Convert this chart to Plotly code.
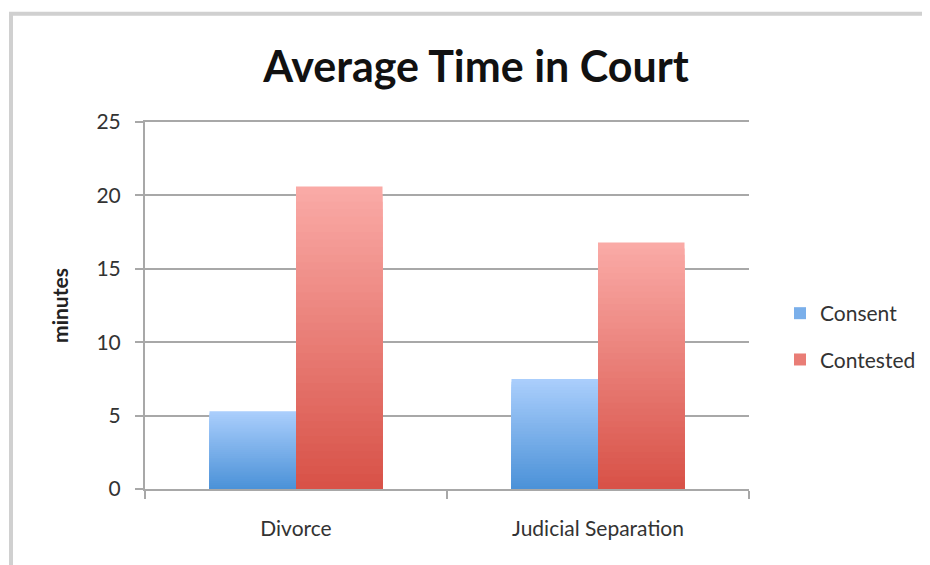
import plotly.graph_objects as go

categories = ["Divorce", "Judicial Separation"]
consent = [5.3, 7.5]
contested = [20.6, 16.8]
y_ticks = [0, 5, 10, 15, 20, 25]

series = [
    ("Consent", consent, (170, 206, 252), (76, 146, 216), "a"),
    ("Contested", contested, (250, 170, 166), (216, 82, 72), "b"),
]

# page has an 8px body margin, so the figure is offset by 8px
W, H = 922, 557
L, R, T, B = 137, 181, 113.5, 75.7
PW = W - L - R
PH = H - T - B

N = 40
fig = go.Figure()
for name, vals, top, bot, grp in series:
    for k in range(N):
        f = k / (N - 1)
        c = tuple(round(top[i] + (bot[i] - top[i]) * f) for i in range(3))
        frac = (N - k) / N
        fig.add_trace(go.Bar(
            x=categories,
            y=[v * frac for v in vals],
            name=name,
            offsetgroup=grp,
            legendgroup=name,
            showlegend=(k == N // 2),
            marker=dict(color="rgb(%d,%d,%d)" % c, line=dict(width=0)),
            hoverinfo="skip",
        ))

fig.update_layout(
    width=W, height=H,
    barmode="group",
    bargap=0.427, bargroupgap=0,
    paper_bgcolor="white", plot_bgcolor="white",
    margin=dict(l=L, r=R, t=T, b=B, autoexpand=False),
    font=dict(family="Lato, Open Sans, sans-serif", color="#222"),
    title=dict(text="<b>Average Time in Court</b>", x=468 / W, xanchor="center",
               y=1 - 59 / H, yanchor="middle",
               font=dict(size=43, color="#111", family="Lato, sans-serif")),
    legend=dict(x=1 + (772 - (W - R)) / PW, y=1 - (328.5 - T) / PH,
                xanchor="left", yanchor="middle",
                font=dict(size=21, color="#333"), tracegroupgap=16,
                itemwidth=30, traceorder="grouped"),
    showlegend=True,
    shapes=[dict(type="rect", xref="paper", yref="paper",
                 x0=(3 - L) / PW, x1=1.6, y0=-0.5,
                 y1=1 + (T - 5) / PH,
                 line=dict(color="#d0d0d0", width=4), layer="below")],
)
fig.update_yaxes(
    range=[0, 25], tickvals=y_ticks, showgrid=True, gridcolor="#a8a8a8", gridwidth=2,
    showline=True, linecolor="#a8a8a8", linewidth=2, ticks="outside", ticklen=8,
    tickcolor="#a8a8a8", tickwidth=2, tickfont=dict(size=21, color="#333"),
    ticklabelstandoff=10,
    title=dict(text="<b>minutes</b>", font=dict(size=21, color="#222"), standoff=22),
    zeroline=False,
)
fig.update_xaxes(
    showline=True, mirror=True, linecolor="#a8a8a8", linewidth=2, ticks="outside", ticklen=8,
    tickcolor="#a8a8a8", tickwidth=2, tickson="boundaries",
    tickfont=dict(size=21, color="#333"), ticklabelstandoff=20,
)
fig.write_html("out.html")
